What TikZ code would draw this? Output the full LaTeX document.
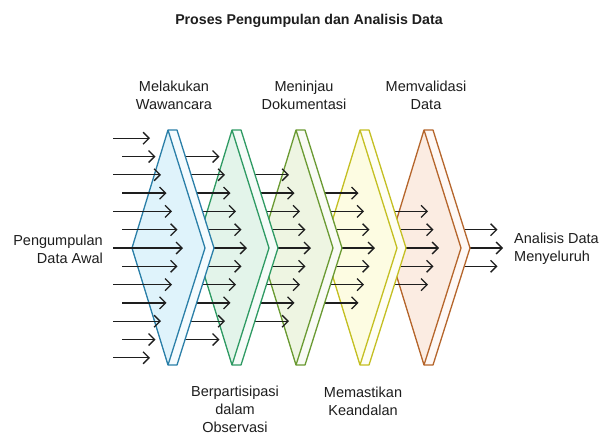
\documentclass[tikz,border=0pt]{standalone}
\usepackage{fontspec}
\setmainfont{Liberation Sans}
\usetikzlibrary{arrows.meta}
\definecolor{c0s}{HTML}{2A7FA8}\definecolor{c0f}{HTML}{DFF3FB}
\definecolor{c1s}{HTML}{2E9A63}\definecolor{c1f}{HTML}{E3F4EA}
\definecolor{c2s}{HTML}{6A9A32}\definecolor{c2f}{HTML}{EEF5E2}
\definecolor{c3s}{HTML}{C4BF22}\definecolor{c3f}{HTML}{FDFCE2}
\definecolor{c4s}{HTML}{B5652B}\definecolor{c4f}{HTML}{FBECE2}
\definecolor{ink}{HTML}{1E1E1E}
\tikzset{
  flow/.style={draw=ink,line width=1.3pt,-{Straight Barb[length=6pt,width=12pt]}},
  lbl/.style={text=ink,font=\fontsize{14.5}{18}\selectfont,inner sep=0pt,align=center},
  ttl/.style={text=ink,font=\fontsize{14.2}{16}\selectfont\bfseries,inner sep=0pt},
}
\newcommand{\stage}[1]{%
  \pgfmathsetmacro{\T}{168+64*#1}%
  \coordinate (t#1) at (\T,130);
  \coordinate (tb#1) at (\T+9,130);
  \coordinate (r#1) at (\T+37,248);
  \coordinate (rb#1) at (\T+46,248);
  \coordinate (b#1) at (\T,365);
  \coordinate (bb#1) at (\T+9,365);
  \coordinate (l#1) at (\T-36,248);
  \fill[c#1f] (t#1) -- (r#1) -- (b#1) -- (l#1) -- cycle;
  \fill[c#1f!35!white] (t#1) -- (tb#1) -- (rb#1) -- (bb#1) -- (b#1) -- (r#1) -- cycle;
  \draw[c#1s,line width=1.3pt,line join=round] (t#1) -- (tb#1) -- (rb#1) -- (bb#1) -- (b#1) -- (l#1) -- cycle;
  \draw[c#1s,line width=1.3pt,line join=round] (t#1) -- (r#1) -- (b#1);
}
\newcommand{\column}[1]{%
  \pgfmathtruncatemacro{\kmax}{6-#1}%
  \foreach \k in {-\kmax,...,\kmax}{%
    \pgfmathsetmacro{\yy}{248+18.3*\k}%
    \pgfmathsetmacro{\xe}{183+64*#1-5.5*abs(\k)}%
    \ifnum#1=0
      \pgfmathsetmacro{\xs}{isodd(\k)?122:113}%
    \else
      \pgfmathsetmacro{\xs}{168+64*(#1-1)}%
    \fi
    \coordinate (s#1\k) at (\xs,\yy);
    \coordinate (e#1\k) at (\xe,\yy);
    \draw[flow] (s#1\k) -- (e#1\k);
  }%
}
\begin{document}
\begin{tikzpicture}[x=1pt,y=-1pt]
\useasboundingbox (0,0) rectangle (604,437);
\fill[white] (0,0) rectangle (604,437);
\node[ttl] (title) at (309,21) {Proses Pengumpulan dan Analisis Data};
\column{5}
\stage{4}
\column{4}
\stage{3}
\column{3}
\stage{2}
\column{2}
\stage{1}
\column{1}
\stage{0}
\column{0}
\node[lbl] (wawancara) at (174,95) {Melakukan\\Wawancara};
\node[lbl] (dokumentasi) at (304,95) {Meninjau\\Dokumentasi};
\node[lbl] (validasi) at (426,95) {Memvalidasi\\Data};
\node[lbl] (observasi) at (235,409) {Berpartisipasi\\dalam\\Observasi};
\node[lbl] (keandalan) at (363,401) {Memastikan\\Keandalan};
\node[lbl,align=right,anchor=east] (awal) at (103,249) {Pengumpulan\\Data Awal};
\node[lbl,align=left,anchor=west] (akhir) at (514,249) {Analisis Data\\Menyeluruh};
\end{tikzpicture}
\end{document}
